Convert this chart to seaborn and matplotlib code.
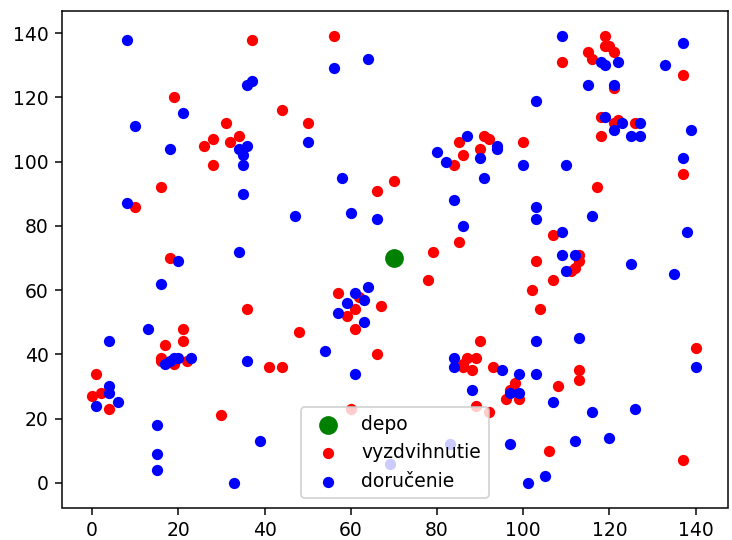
import matplotlib
matplotlib.use("Agg")
import matplotlib.pyplot as plt
import seaborn as sns

# depo
depo_x = [70]
depo_y = [70]

# vyzdvihnutie (pickup) body
pickup_x = [37, 56, 19, 44, 50, 31, 34, 28, 26, 32, 28, 16, 10, 66, 70, 18, 36, 21, 17, 21,
            16, 16, 19, 22, 1, 0, 2, 4, 30, 41, 44, 48, 57, 59, 61, 61, 62, 66, 67, 60,
            78, 79, 85, 84, 86, 85, 90, 91, 92, 90, 89, 87, 86, 86, 88, 93, 92, 89, 97, 98,
            99, 96, 100, 103, 102, 104, 107, 107, 108, 106, 109, 115, 116, 119, 119, 120, 121, 121, 118, 118,
            121, 122, 126, 117, 111, 112, 113, 113, 113, 113, 137, 137, 137, 140]
pickup_y = [138, 139, 120, 116, 112, 112, 108, 107, 105, 106, 99, 92, 86, 91, 94, 70, 54, 48, 43, 44,
            39, 38, 37, 38, 34, 27, 28, 23, 21, 36, 36, 47, 59, 52, 54, 48, 58, 40, 55, 23,
            63, 72, 75, 99, 102, 106, 104, 108, 107, 44, 39, 39, 37, 36, 35, 36, 22, 24, 29, 31,
            26, 26, 106, 69, 60, 54, 77, 63, 30, 10, 131, 134, 132, 139, 136, 136, 134, 123, 114, 108,
            112, 113, 112, 92, 66, 67, 69, 71, 35, 32, 127, 96, 7, 42]

# doručenie (delivery) body
delivery_x = [8, 10, 8, 18, 21, 56, 64, 36, 37, 34, 36, 35, 35, 35, 50, 47, 58, 60, 66, 20,
              16, 34, 13, 4, 17, 18, 19, 20, 23, 36, 4, 4, 6, 1, 15, 15, 15, 33, 39, 54,
              57, 59, 61, 63, 63, 64, 61, 80, 82, 87, 84, 86, 90, 91, 94, 94, 84, 84, 88, 95,
              97, 99, 99, 97, 83, 69, 100, 103, 103, 103, 103, 103, 101, 105, 107, 109, 109, 110, 110, 112,
              113, 112, 109, 115, 116, 116, 120, 118, 119, 119, 121, 122, 121, 123, 125, 127, 127, 125, 126, 133,
              135, 137, 137, 138, 139, 140]
delivery_y = [138, 111, 87, 104, 115, 129, 132, 124, 125, 104, 105, 102, 99, 90, 106, 83, 95, 84, 82, 69,
              62, 72, 48, 44, 37, 38, 39, 39, 39, 38, 30, 28, 25, 24, 18, 9, 4, 0, 13, 41,
              53, 56, 59, 57, 50, 61, 34, 103, 100, 108, 88, 80, 101, 95, 104, 105, 39, 36, 29, 35,
              28, 28, 34, 12, 12, 6, 99, 119, 86, 82, 44, 34, 0, 2, 25, 78, 71, 66, 99, 71,
              45, 13, 139, 124, 83, 22, 14, 131, 130, 114, 124, 131, 110, 112, 108, 108, 112, 68, 23, 130,
              65, 137, 101, 78, 110, 36]

fig = plt.figure(figsize=(732 / 135, 540 / 135), dpi=135)
ax = fig.add_axes([62 / 732, 1 - 507.5 / 540, 666 / 732, 496.5 / 540])

sns.scatterplot(x=depo_x, y=depo_y, color="green", s=100, linewidth=0, label="depo", ax=ax)
sns.scatterplot(x=pickup_x, y=pickup_y, color="red", s=36, linewidth=0, label="vyzdvihnutie", ax=ax)
sns.scatterplot(x=delivery_x, y=delivery_y, color="blue", s=36, linewidth=0, label="doručenie", ax=ax)

ax.set_xlim(-7, 147.5)
ax.set_ylim(-7.7, 146.9)
ax.set_xticks(range(0, 141, 20))
ax.set_yticks(range(0, 141, 20))
ax.legend(loc="lower center")

fig.savefig("out.png", dpi=135)
